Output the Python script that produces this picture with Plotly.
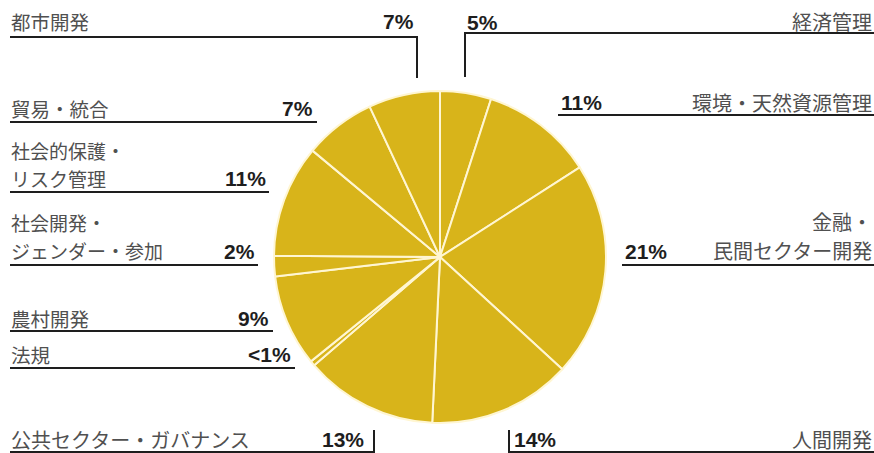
import plotly.graph_objects as go

W, H = 874, 453

# Sector shares, clockwise from 12 o'clock
categories = [
    "経済管理", "環境・天然資源管理", "金融・民間セクター開発", "人間開発",
    "公共セクター・ガバナンス", "法規", "農村開発", "社会開発・ジェンダー・参加",
    "社会的保護・リスク管理", "貿易・統合", "都市開発",
]
values = [5, 11, 21, 14, 13, 0.5, 9, 2, 11, 7, 7]
pct_labels = ["5%", "11%", "21%", "14%", "13%", "<1%", "9%", "2%", "11%", "7%", "7%"]

GOLD = "#D8B41A"
EDGE = "#FFF6D2"
INK = "#1E1E1E"
GREY = "#505050"
JP = "Noto Sans CJK JP, sans-serif"
NUM = "Liberation Sans, Arial, sans-serif"


def fx(x):
    return x / W


def fy(y):
    return 1 - y / H


# pie centre and radius in pixels
CX, CY, R = 440, 257, 166

fig = go.Figure(
    go.Pie(
        labels=categories,
        values=values,
        sort=False,
        direction="clockwise",
        rotation=0,
        textinfo="none",
        hoverinfo="label+percent",
        marker=dict(colors=[GOLD] * len(values), line=dict(color=EDGE, width=2)),
        domain=dict(x=[fx(CX - R), fx(CX + R)], y=[fy(CY + R), fy(CY - R)]),
        showlegend=False,
    )
)

annotations = []
shapes = []


def text(x, y, s, anchor, bold=False, size=19.5):
    annotations.append(dict(
        x=fx(x), y=fy(y), xref="paper", yref="paper",
        text=f"<b>{s}</b>" if bold else s, showarrow=False,
        xanchor=anchor, yanchor="middle", align=anchor,
        font=dict(family=NUM if bold else JP, size=21 if bold else size,
                  color=INK if bold else GREY),
    ))


def two_lines(x, y_top, y_bottom, label, anchor, size=19):
    # long category names are split after their first "・"
    head, tail = label.split("・", 1)
    text(x, y_top, head + "・", anchor, size=size)
    text(x, y_bottom, tail, anchor, size=size)


def line(x0, y0, x1, y1):
    shapes.append(dict(type="line", xref="paper", yref="paper",
                       x0=fx(x0), y0=fy(y0), x1=fx(x1), y1=fy(y1),
                       line=dict(color=INK, width=2)))


idx = {c: i for i, c in enumerate(categories)}

# 都市開発 (top left, with drop line)
i = idx["都市開発"]
text(9, 21, categories[i], "left")
text(416, 21, pct_labels[i], "right", bold=True)
line(10, 37, 417, 37)
line(417, 36, 417, 78)

# 経済管理 (top right, with drop line)
i = idx["経済管理"]
text(465, 22, pct_labels[i], "left", bold=True)
text(874, 21, categories[i], "right", size=20)
line(465, 33, 874, 33)
line(465, 32, 465, 77)

# 環境・天然資源管理
i = idx["環境・天然資源管理"]
text(559, 102, pct_labels[i], "left", bold=True)
text(874, 102, categories[i], "right", size=20)
line(558, 115, 874, 115)

# 金融・民間セクター開発
i = idx["金融・民間セクター開発"]
two_lines(874, 221, 250, categories[i], "right", size=20)
text(623, 251, pct_labels[i], "left", bold=True)
line(622, 265, 874, 265)

# 貿易・統合
i = idx["貿易・統合"]
text(9, 108, categories[i], "left")
text(315, 108, pct_labels[i], "right", bold=True)
line(10, 122, 317, 122)

# 社会的保護・リスク管理
i = idx["社会的保護・リスク管理"]
two_lines(9, 150, 178, categories[i], "left")
text(268, 178, pct_labels[i], "right", bold=True)
line(10, 192, 269, 192)

# 社会開発・ジェンダー・参加
i = idx["社会開発・ジェンダー・参加"]
two_lines(9, 222, 250, categories[i], "left")
text(257, 251, pct_labels[i], "right", bold=True)
line(10, 265, 258, 265)

# 農村開発
i = idx["農村開発"]
text(9, 318, categories[i], "left")
text(271, 318, pct_labels[i], "right", bold=True)
line(10, 331, 273, 331)

# 法規
i = idx["法規"]
text(9, 354, categories[i], "left")
text(293, 354, pct_labels[i], "right", bold=True)
line(10, 368, 295, 368)

# 公共セクター・ガバナンス (bottom left, with rising line)
i = idx["公共セクター・ガバナンス"]
text(9, 439, categories[i], "left", size=20)
text(366, 439, pct_labels[i], "right", bold=True)
line(10, 452, 374, 452)
line(374, 430, 374, 453)

# 人間開発 (bottom right, with rising line)
i = idx["人間開発"]
text(512, 439, pct_labels[i], "left", bold=True)
text(874, 439, categories[i], "right", size=20)
line(509, 452, 874, 452)
line(509, 430, 509, 453)

fig.update_layout(
    width=W, height=H,
    margin=dict(l=0, r=0, t=0, b=0),
    paper_bgcolor="white", plot_bgcolor="white",
    annotations=annotations, shapes=shapes,
)

fig.write_html("out.html")
